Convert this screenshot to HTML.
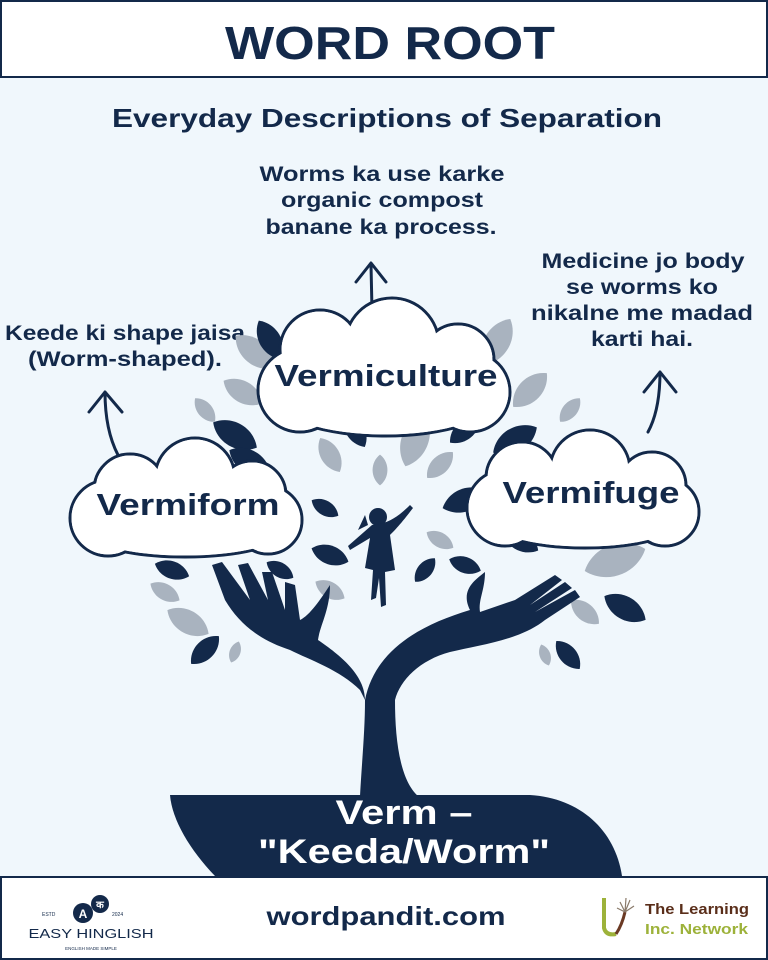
<!DOCTYPE html>
<html><head><meta charset="utf-8"><style>
html,body{margin:0;padding:0}
body{width:768px;height:960px;overflow:hidden;background:#f0f7fc}
svg{display:block}
text{font-family:"Liberation Sans",sans-serif;font-weight:bold;fill:#13294a}
</style></head><body>
<svg width="768" height="960" viewBox="0 0 768 960" xmlns="http://www.w3.org/2000/svg">
<defs>
<path id="lf" d="M0,-14 C9,-7 9,7 0,14 C-9,7 -9,-7 0,-14Z"/>
</defs>
<rect x="0" y="0" width="768" height="960" fill="#f0f7fc"/>
<rect x="1" y="1" width="766" height="76" fill="#fff" stroke="#13294a" stroke-width="2"/>
<text x="390" y="59" font-size="46" text-anchor="middle" textLength="330" lengthAdjust="spacingAndGlyphs">WORD ROOT</text>
<text x="387" y="127" font-size="26" text-anchor="middle" textLength="550" lengthAdjust="spacingAndGlyphs">Everyday Descriptions of Separation</text>

<g font-size="21" text-anchor="middle">
<text x="382" y="181" textLength="245" lengthAdjust="spacingAndGlyphs">Worms ka use karke</text>
<text x="382" y="207" textLength="202" lengthAdjust="spacingAndGlyphs">organic compost</text>
<text x="381" y="234" textLength="231" lengthAdjust="spacingAndGlyphs">banane ka process.</text>
<text x="643" y="268" textLength="203" lengthAdjust="spacingAndGlyphs">Medicine jo body</text>
<text x="642" y="294" textLength="152" lengthAdjust="spacingAndGlyphs">se worms ko</text>
<text x="642" y="320" textLength="222" lengthAdjust="spacingAndGlyphs">nikalne me madad</text>
<text x="642" y="346" textLength="102" lengthAdjust="spacingAndGlyphs">karti hai.</text>
<text x="125" y="340" textLength="240" lengthAdjust="spacingAndGlyphs">Keede ki shape jaisa</text>
<text x="125" y="366" textLength="194" lengthAdjust="spacingAndGlyphs">(Worm-shaped).</text>
</g>

<g fill="none" stroke="#13294a" stroke-width="3" stroke-linecap="round" stroke-linejoin="round">
<path d="M372,310 L371,265 M356,282 L371,263 L386,282"/>
<path d="M118,455 Q105,430 105,392 M89,412 L105,392 L122,412"/>
<path d="M648,432 Q660,410 660,372 M644,392 L660,372 L676,392"/>
</g>

<g fill="#a9b3bf">
<use href="#lf" transform="translate(255,352) rotate(-50) scale(1.8)"/>
<use href="#lf" transform="translate(497,342) rotate(30) scale(1.9)"/>
<use href="#lf" transform="translate(243,392) rotate(-60) scale(1.6)"/>
<use href="#lf" transform="translate(530,390) rotate(45) scale(1.7)"/>
<use href="#lf" transform="translate(205,410) rotate(-40) scale(1.1)"/>
<use href="#lf" transform="translate(570,410) rotate(40) scale(1.1)"/>
<use href="#lf" transform="translate(330,455) rotate(-30) scale(1.4)"/>
<use href="#lf" transform="translate(380,470) rotate(0) scale(1.1)"/>
<use href="#lf" transform="translate(415,440) rotate(20) scale(2)"/>
<use href="#lf" transform="translate(440,465) rotate(45) scale(1.3)"/>
<use href="#lf" transform="translate(165,592) rotate(-60) scale(1.2)"/>
<use href="#lf" transform="translate(188,622) rotate(-60) scale(1.7)"/>
<use href="#lf" transform="translate(330,590) rotate(-60) scale(1.2)"/>
<use href="#lf" transform="translate(235,652) rotate(20) scale(.8)"/>
<use href="#lf" transform="translate(440,540) rotate(-60) scale(1.1)"/>
<use href="#lf" transform="translate(615,560) rotate(70) scale(2.3)"/>
<use href="#lf" transform="translate(585,612) rotate(-50) scale(1.3)"/>
<use href="#lf" transform="translate(545,655) rotate(-20) scale(.8)"/>
<use href="#lf" transform="translate(550,520) rotate(60) scale(1.4)"/>
</g>
<g fill="#13294a">
<use href="#lf" transform="translate(270,340) rotate(-30) scale(1.6)"/>
<use href="#lf" transform="translate(235,435) rotate(-60) scale(1.8)"/>
<use href="#lf" transform="translate(250,462) rotate(-60) scale(1.7)"/>
<use href="#lf" transform="translate(355,430) rotate(-30) scale(1.4)"/>
<use href="#lf" transform="translate(465,430) rotate(50) scale(1.4)"/>
<use href="#lf" transform="translate(515,440) rotate(60) scale(1.8)"/>
<use href="#lf" transform="translate(465,500) rotate(70) scale(1.7)"/>
<use href="#lf" transform="translate(325,508) rotate(-60) scale(1.1)"/>
<use href="#lf" transform="translate(330,555) rotate(-70) scale(1.4)"/>
<use href="#lf" transform="translate(280,570) rotate(-60) scale(1.1)"/>
<use href="#lf" transform="translate(172,570) rotate(-70) scale(1.3)"/>
<use href="#lf" transform="translate(205,650) rotate(45) scale(1.4)"/>
<use href="#lf" transform="translate(425,570) rotate(40) scale(1.1)"/>
<use href="#lf" transform="translate(465,565) rotate(-70) scale(1.2)"/>
<use href="#lf" transform="translate(520,540) rotate(-60) scale(1.5)"/>
<use href="#lf" transform="translate(625,608) rotate(-60) scale(1.7)"/>
<use href="#lf" transform="translate(568,655) rotate(-40) scale(1.3)"/>
</g>

<g fill="#13294a">
<path d="M212,565 L222,562 L250,600 L238,565 L248,563 L268,600 L262,572 L272,572 L285,610 L285,582 L295,585 L300,620 C310,615 320,600 330,585 C330,610 320,625 318,640 C340,655 365,675 365,700 L360,690 C340,670 310,660 290,650 C260,640 240,625 225,600 Z"/>
<path d="M365,700 C375,650 420,625 470,610 C460,590 475,580 485,572 C485,590 478,600 480,612 L515,600 L555,575 L562,580 L530,605 L565,582 L572,588 L535,612 L575,590 L580,597 L545,620 C520,640 480,645 450,652 C420,660 400,680 395,700 C395,740 400,780 418,796 L360,796 C362,760 365,730 365,700Z"/>
<path d="M170,795 L530,795 C580,798 615,830 622,876 L215,876 C190,850 172,820 170,795Z"/>
<circle cx="378" cy="517" r="9"/>
<path d="M365,515 L358,530 L368,525 Z"/>
<path d="M372,525 C385,524 395,520 410,505 L413,508 C400,525 395,530 390,535 L395,570 L385,572 L386,605 L381,607 L379,578 L376,598 L371,600 L373,570 L365,568 L370,538 L350,550 L348,546 Z"/>
</g>

<g stroke="#13294a" stroke-width="3" fill="#fff">
<circle cx="320" cy="350" r="40"/><circle cx="392" cy="345" r="47"/><circle cx="458" cy="360" r="36"/>
<circle cx="300" cy="390" r="42"/><circle cx="470" cy="392" r="40"/><ellipse cx="385" cy="398" rx="112" ry="38"/>
<circle cx="130" cy="490" r="36"/><circle cx="195" cy="478" r="40"/><circle cx="252" cy="495" r="34"/>
<circle cx="108" cy="518" r="38"/><circle cx="268" cy="520" r="34"/><ellipse cx="185" cy="528" rx="105" ry="29"/>
<circle cx="522" cy="478" r="36"/><circle cx="590" cy="470" r="40"/><circle cx="652" cy="486" r="34"/>
<circle cx="505" cy="508" r="38"/><circle cx="665" cy="512" r="34"/><ellipse cx="585" cy="518" rx="100" ry="30"/>
</g>
<g fill="#fff">
<circle cx="320" cy="350" r="38.5"/><circle cx="392" cy="345" r="45.5"/><circle cx="458" cy="360" r="34.5"/>
<circle cx="300" cy="390" r="40.5"/><circle cx="470" cy="392" r="38.5"/><ellipse cx="385" cy="398" rx="110.5" ry="36.5"/>
<circle cx="130" cy="490" r="34.5"/><circle cx="195" cy="478" r="38.5"/><circle cx="252" cy="495" r="32.5"/>
<circle cx="108" cy="518" r="36.5"/><circle cx="268" cy="520" r="32.5"/><ellipse cx="185" cy="528" rx="103.5" ry="27.5"/>
<circle cx="522" cy="478" r="34.5"/><circle cx="590" cy="470" r="38.5"/><circle cx="652" cy="486" r="32.5"/>
<circle cx="505" cy="508" r="36.5"/><circle cx="665" cy="512" r="32.5"/><ellipse cx="585" cy="518" rx="98.5" ry="28.5"/>
</g>
<text x="386" y="386" font-size="31" text-anchor="middle" textLength="223" lengthAdjust="spacingAndGlyphs">Vermiculture</text>
<text x="188" y="515" font-size="31" text-anchor="middle" textLength="183" lengthAdjust="spacingAndGlyphs">Vermiform</text>
<text x="591" y="503" font-size="31" text-anchor="middle" textLength="177" lengthAdjust="spacingAndGlyphs">Vermifuge</text>

<text x="404" y="824" font-size="34" text-anchor="middle" style="fill:#fff" textLength="137" lengthAdjust="spacingAndGlyphs">Verm –</text>
<text x="404" y="863" font-size="34" text-anchor="middle" style="fill:#fff" textLength="292" lengthAdjust="spacingAndGlyphs">"Keeda/Worm"</text>

<rect x="1" y="877" width="766" height="82" fill="#fff" stroke="#13294a" stroke-width="2"/>
<text x="386" y="925" font-size="26" text-anchor="middle" textLength="239" lengthAdjust="spacingAndGlyphs">wordpandit.com</text>
<circle cx="83" cy="913" r="10" fill="#13294a"/>
<circle cx="100" cy="904" r="9" fill="#13294a"/>
<text x="83" y="918" font-size="12" text-anchor="middle" style="fill:#fff">A</text>
<text x="100" y="908" font-size="10" text-anchor="middle" style="fill:#fff;font-family:'Noto Sans CJK SC',sans-serif">क</text>
<text x="42" y="916" font-size="5" style="font-weight:normal">ESTD</text>
<text x="112" y="916" font-size="5" style="font-weight:normal">2024</text>
<text x="91" y="938" font-size="13" text-anchor="middle" style="font-weight:normal" textLength="125" lengthAdjust="spacingAndGlyphs">EASY HINGLISH</text>
<text x="91" y="950" font-size="4.5" text-anchor="middle" style="font-weight:normal">ENGLISH MADE SIMPLE</text>
<path d="M604,898 L604,928 Q606,936 616,934" fill="none" stroke="#9db23a" stroke-width="4"/>
<path d="M616,934 Q622,925 625,912" fill="none" stroke="#6b3a24" stroke-width="3"/>
<g stroke="#8a7a6a" stroke-width="1.2" fill="none"><path d="M625,912 L620,902 M625,912 L630,900 M625,912 L634,906 M625,912 L617,908 M625,912 L626,898"/></g>
<text x="645" y="914" font-size="15" style="fill:#5a2e1a" textLength="104" lengthAdjust="spacingAndGlyphs">The Learning</text>
<text x="645" y="934" font-size="15" style="fill:#9db23a" textLength="103" lengthAdjust="spacingAndGlyphs">Inc. Network</text>
</svg>
</body></html>
